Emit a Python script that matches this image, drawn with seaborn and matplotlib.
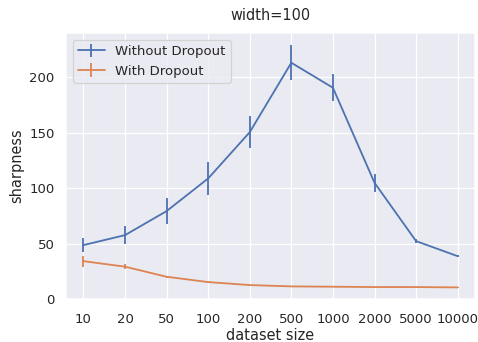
import matplotlib
matplotlib.use("Agg")
import matplotlib.pyplot as plt
import seaborn as sns

dataset_sizes = ["10", "20", "50", "100", "200", "500", "1000", "2000", "5000", "10000"]

sharpness_no_dropout = [48.6, 57.6, 79.3, 108.8, 150.6, 213.3, 190.7, 104.9, 52.2, 38.6]
sharpness_no_dropout_err = [6.5, 8.0, 12.0, 14.8, 14.6, 16.0, 12.0, 8.3, 1.5, 1.0]

sharpness_dropout = [34.1, 29.1, 20.0, 15.2, 12.5, 11.3, 11.0, 10.7, 10.7, 10.4]
sharpness_dropout_err = [5.1, 2.0, 1.0, 0.8, 0.5, 0.3, 0.3, 0.3, 0.3, 0.3]

sns.set_theme()
palette = sns.color_palette("deep")

dpi = 87
fig = plt.figure(figsize=(478 / dpi, 342 / dpi), dpi=dpi)
ax = fig.add_axes([0.138, 0.126, 0.856, 0.777])

ax.errorbar(dataset_sizes, sharpness_no_dropout, yerr=sharpness_no_dropout_err,
            color=palette[0], label="Without Dropout")
ax.errorbar(dataset_sizes, sharpness_dropout, yerr=sharpness_dropout_err,
            color=palette[1], label="With Dropout")

ax.set_xlim(-0.42, 9.42)
ax.set_ylim(0, 240)
ax.set_yticks([0, 50, 100, 150, 200])
ax.tick_params(axis="x", pad=6)
ax.set_xlabel("dataset size", labelpad=1)
ax.set_ylabel("sharpness")
ax.set_title("width=100", pad=11)
ax.legend(loc="upper left")

fig.savefig("out.png", dpi=dpi)
